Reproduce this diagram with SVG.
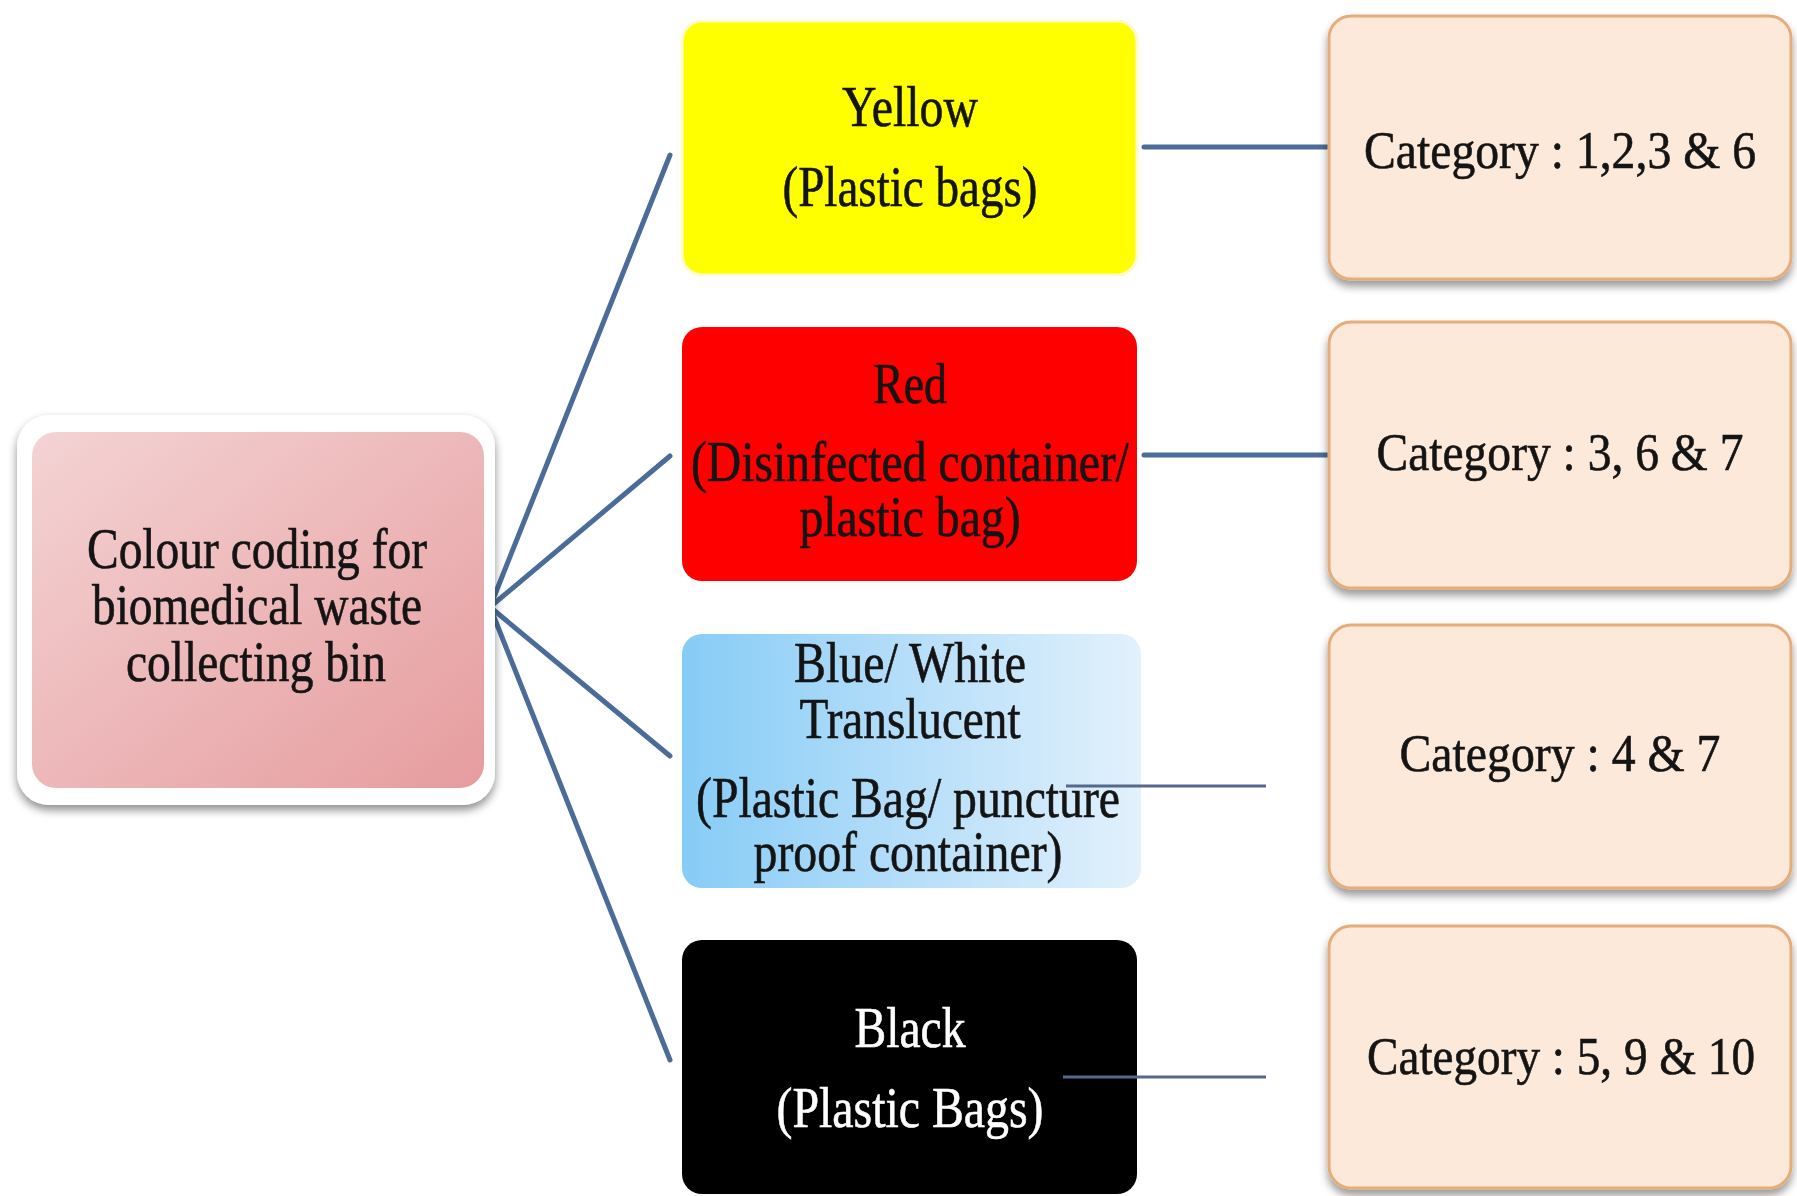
<svg xmlns="http://www.w3.org/2000/svg" width="1797" height="1196" viewBox="0 0 1797 1196">
<style>
.t{font-family:"Liberation Serif","Times New Roman",serif;font-size:56px;fill:#141414;stroke:#141414;stroke-width:0.6;text-anchor:middle}
.w{fill:#ffffff;stroke:#ffffff}
.c{font-size:53px}
.cat{fill:#fde9da;stroke:#e6ad78;stroke-width:3}
.conn{stroke:#4b6b99;stroke-width:5;fill:none;stroke-linecap:round}
.thin{stroke:#55698a;stroke-width:3;fill:none}
</style>
<defs>
<filter id="sh" x="-10%" y="-10%" width="120%" height="130%">
<feDropShadow dx="0" dy="6" stdDeviation="4" flood-color="#000" flood-opacity="0.4"/>
</filter>
<filter id="sh2" x="-10%" y="-10%" width="120%" height="130%">
<feDropShadow dx="0" dy="5" stdDeviation="5" flood-color="#000" flood-opacity="0.45"/>
</filter>
<linearGradient id="pink" x1="0" y1="0" x2="1" y2="1">
<stop offset="0" stop-color="#f4d3d4"/>
<stop offset="1" stop-color="#e69c9e"/>
</linearGradient>
<linearGradient id="blue" x1="0" y1="0" x2="1" y2="0">
<stop offset="0" stop-color="#86ccf6"/>
<stop offset="0.5" stop-color="#b6def9"/>
<stop offset="1" stop-color="#e2f1fc"/>
</linearGradient>
</defs>
<rect width="1797" height="1196" fill="#ffffff"/>

<g id="connectors">
<line class="conn" x1="490" y1="607" x2="670" y2="155"/>
<line class="conn" x1="490" y1="607" x2="670" y2="456"/>
<line class="conn" x1="490" y1="607" x2="670" y2="756"/>
<line class="conn" x1="490" y1="607" x2="670" y2="1060"/>
<line class="conn" x1="1144" y1="147" x2="1329" y2="147" stroke-linecap="butt"/>
<line class="conn" x1="1144" y1="455" x2="1329" y2="455" stroke-linecap="butt"/>
</g>

<g id="root">
<rect x="17" y="415" width="478" height="390" rx="32" fill="#ffffff" filter="url(#sh2)"/>
<rect x="32" y="432" width="452" height="356" rx="24" fill="url(#pink)"/>
<text class="t" x="257" y="568" font-size="58" textLength="340" lengthAdjust="spacingAndGlyphs">Colour coding for</text>
<text class="t" x="257" y="624" font-size="58" textLength="330" lengthAdjust="spacingAndGlyphs">biomedical waste</text>
<text class="t" x="256" y="681" font-size="58" textLength="260" lengthAdjust="spacingAndGlyphs">collecting bin</text>
</g>

<g id="yellow">
<rect x="682" y="21" width="455" height="254" rx="20" fill="#ffff00" stroke="#fffbd0" stroke-width="3"/>
<text class="t" x="910" y="126" textLength="136" lengthAdjust="spacingAndGlyphs">Yellow</text>
<text class="t" x="910" y="206" textLength="255" lengthAdjust="spacingAndGlyphs">(Plastic bags)</text>
</g>

<g id="red">
<rect x="682" y="327" width="455" height="254" rx="20" fill="#ff0000"/>
<text class="t" x="910" y="403" textLength="74" lengthAdjust="spacingAndGlyphs">Red</text>
<text class="t" x="910" y="481" textLength="438" lengthAdjust="spacingAndGlyphs">(Disinfected container/</text>
<text class="t" x="910" y="536" textLength="221" lengthAdjust="spacingAndGlyphs">plastic bag)</text>
</g>

<g id="blue-white">
<rect x="682" y="634" width="459" height="254" rx="20" fill="url(#blue)"/>
<text class="t" x="910" y="682" textLength="232" lengthAdjust="spacingAndGlyphs">Blue/ White</text>
<text class="t" x="910" y="738" textLength="221" lengthAdjust="spacingAndGlyphs">Translucent</text>
<text class="t" x="908" y="817" textLength="424" lengthAdjust="spacingAndGlyphs">(Plastic Bag/ puncture</text>
<text class="t" x="908" y="871" textLength="309" lengthAdjust="spacingAndGlyphs">proof container)</text>
</g>

<g id="black">
<rect x="682" y="940" width="455" height="254" rx="20" fill="#000000"/>
<text class="t w" x="910" y="1047" textLength="111" lengthAdjust="spacingAndGlyphs">Black</text>
<text class="t w" x="910" y="1127" textLength="267" lengthAdjust="spacingAndGlyphs">(Plastic Bags)</text>
</g>

<g id="thin-connectors">
<line class="thin" x1="1066" y1="786" x2="1266" y2="786"/>
<line class="thin" x1="1063" y1="1077" x2="1266" y2="1077"/>
</g>

<g id="cat1">
<rect class="cat" x="1329" y="16" width="462" height="263" rx="22" filter="url(#sh)"/>
<text class="t c" x="1560" y="168" textLength="392" lengthAdjust="spacingAndGlyphs">Category : 1,2,3 &amp; 6</text>
</g>
<g id="cat2">
<rect class="cat" x="1329" y="322" width="462" height="266" rx="22" filter="url(#sh)"/>
<text class="t c" x="1560" y="470" textLength="367" lengthAdjust="spacingAndGlyphs">Category : 3, 6 &amp; 7</text>
</g>
<g id="cat3">
<rect class="cat" x="1329" y="625" width="462" height="263" rx="22" filter="url(#sh)"/>
<text class="t c" x="1560" y="771" textLength="321" lengthAdjust="spacingAndGlyphs">Category : 4 &amp; 7</text>
</g>
<g id="cat4">
<rect class="cat" x="1329" y="926" width="462" height="262" rx="22" filter="url(#sh)"/>
<text class="t c" x="1561" y="1074" font-size="49" textLength="388" lengthAdjust="spacingAndGlyphs">Category : 5, 9 &amp; 10</text>
</g>
</svg>
